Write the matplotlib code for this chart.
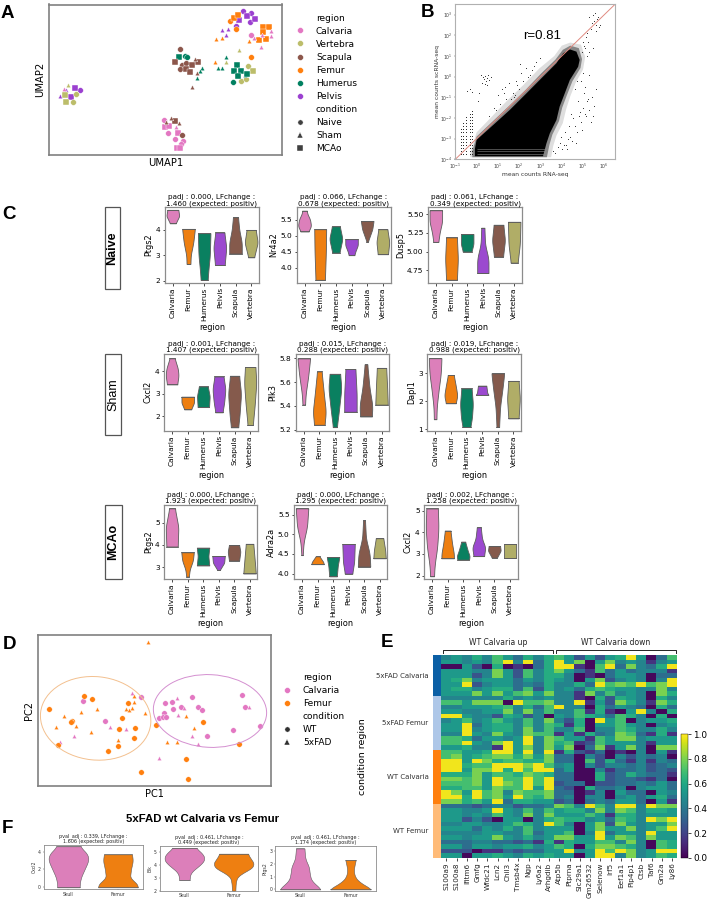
import numpy as np
import matplotlib
matplotlib.use('Agg')
import matplotlib.pyplot as plt
from matplotlib.lines import Line2D
from matplotlib.patches import Ellipse, Rectangle
from matplotlib.colors import ListedColormap

W, H = 708, 899
fig = plt.figure(figsize=(W/100, H/100), dpi=100)

def axpx(l, t, r, b):
    return fig.add_axes([l/W, 1-b/H, (r-l)/W, (b-t)/H])

def style(ax, color='#8c8c8c', lw=1.0):
    for s in ax.spines.values():
        s.set_color(color); s.set_linewidth(lw)

BOLD = 'Liberation Sans'
COL = {'Calvaria': '#e377c2', 'Vertebra': '#bcbd6a', 'Scapula': '#8c564b',
       'Femur': '#ff7f0e', 'Humerus': '#008060', 'Pelvis': '#9b40d0'}
VCOL = ['#dc7fba', '#ee7f11', '#0a8060', '#9b49cf', '#855a4c', '#b0ad67']
MK = {'Naive': 'o', 'Sham': '^', 'MCAo': 's'}

# ---------- Panel A (UMAP, arbitrary units)
a_regions = ['Calvaria', 'Vertebra', 'Scapula', 'Femur', 'Humerus', 'Pelvis']
a_conditions = ['Naive', 'Sham', 'MCAo']
a_pts = {
 ('Pelvis', 'Naive'): ([730, 755, 708, 752, 241], [33, 40, 78, 66, 271]),
 ('Pelvis', 'MCAo'): ([741, 719, 765, 224, 214], [48, 60, 58, 264, 290]),
 ('Pelvis', 'Sham'): ([666, 685, 680, 197, 181], [91, 87, 104, 270, 287]),
 ('Femur', 'Naive'): ([692, 708, 755], [63, 88, 170]),
 ('Femur', 'MCAo'): ([703, 714, 789, 808, 789, 777, 798], [53, 46, 82, 82, 96, 120, 116]),
 ('Femur', 'Sham'): ([650, 666, 749, 646], [117, 114, 124, 186]),
 ('Calvaria', 'Naive'): ([755, 491, 505, 524, 550, 544], [105, 359, 398, 417, 423, 433]),
 ('Calvaria', 'Sham'): ([763, 814, 787, 813, 785, 193, 529], [114, 92, 106, 108, 141, 267, 381]),
 ('Calvaria', 'MCAo'): ([494, 507, 533, 532, 539], [382, 379, 399, 444, 444]),
 ('Vertebra', 'Sham'): ([718, 680, 203], [151, 185, 255]),
 ('Vertebra', 'Naive'): ([746, 723, 740, 227, 219], [198, 244, 237, 282, 307]),
 ('Vertebra', 'MCAo'): ([759, 194, 198], [213, 285, 307]),
 ('Humerus', 'Sham'): ([680, 654, 668, 736, 607, 600, 591], [170, 203, 203, 224, 203, 212, 233]),
 ('Humerus', 'MCAo'): ([711, 702, 723, 715, 743, 536], [196, 213, 213, 228, 221, 172]),
 ('Humerus', 'Naive'): ([699, 556, 560], [246, 168, 170]),
 ('Scapula', 'Naive'): ([541, 546, 559, 540, 546], [147, 194, 190, 206, 405]),
 ('Scapula', 'MCAo'): ([526, 593, 576, 558, 570, 524], [186, 186, 195, 208, 215, 362]),
 ('Scapula', 'Sham'): ([585, 591, 577, 514, 499, 536], [178, 220, 261, 353, 366, 370]),
}
ax = axpx(49.5, 4.5, 282, 155)
for (reg, cond), (xs, ys) in a_pts.items():
    ax.scatter(xs, ys, s=17 if cond != 'Sham' else 11, c=COL[reg], marker=MK[cond],
               edgecolors='white', linewidths=0.3)
ax.set_xlim(148, 847); ax.set_ylim(465, 13)
ax.set_xticks([]); ax.set_yticks([])
ax.set_xlabel('UMAP1', fontsize=7.2, labelpad=2); ax.set_ylabel('UMAP2', fontsize=7.2, labelpad=3)
style(ax, '#808080', 1.2)
h = [Line2D([], [], ls='', label='region')]
h += [Line2D([], [], ls='', marker='o', ms=4.2, color=COL[r], mec='white', mew=.3, label=r) for r in a_regions]
h += [Line2D([], [], ls='', label='condition')]
h += [Line2D([], [], ls='', marker=MK[c], ms=3.8, color='#404040', mec='white', mew=.3, label=c) for c in a_conditions]
ax.legend(handles=h, loc='upper left', bbox_to_anchor=(1.009, 1.0), frameon=False, fontsize=6.5,
          labelspacing=0.45, handletextpad=0.93, handlelength=1.6, borderpad=0.3, borderaxespad=0.7)

# ---------- Panel B (density envelope plus sparse points, log10 units)
env_x = [-0.08, 0.0, 0.78, 1.56, 2.34, 3.12, 3.75, 4.06, 4.38, 4.69, 4.84, 4.77, 4.38, 4.14, 3.9, 3.75, 3.44, 3.28, 3.12, -0.08]
env_y = [-3.5, -3.06, -2.34, -1.61, -0.81, 0.0, 0.65, 1.13, 1.32, 1.21, 0.81, 0.48, -0.16, -0.81, -1.45, -2.1, -2.74, -3.23, -3.85, -3.85]
halo1_x = [-0.2, 0.0, 0.75, 1.5, 2.3, 3.05, 3.7, 4.05, 4.4, 4.8, 4.95, 4.88, 4.5, 4.25, 4.02, 3.87, 3.56, 3.42, 3.3, -0.2]
halo1_y = [-3.6, -2.9, -2.17, -1.44, -0.64, 0.17, 0.82, 1.3, 1.5, 1.38, 0.85, 0.42, -0.22, -0.87, -1.5, -2.15, -2.8, -3.3, -3.9, -3.9]
halo2_x = [-0.3, 0.0, 0.7, 1.4, 2.2, 2.95, 3.65, 4.0, 4.4, 4.9, 5.1, 5.0, 4.65, 4.4, 4.2, 4.05, 3.75, 3.6, 3.5, -0.3]
halo2_y = [-3.7, -2.7, -1.95, -1.2, -0.4, 0.4, 1.0, 1.5, 1.65, 1.55, 0.95, 0.35, -0.3, -0.95, -1.6, -2.25, -2.85, -3.35, -3.9, -3.9]
gap_y = [-3.72, -3.6, -3.48]
low_cols = [-0.75, -0.62, -0.48, -0.33, -0.2]
low_tops = [9, 11, 13, 14, 15]
low_rows = [-3.75, -3.6, -3.45, -3.3, -3.15, -3.0, -2.85, -2.7, -2.55, -2.4, -2.25, -2.1, -1.95, -1.8, -1.65]
stray_x = [5.2, 5.3, 5.4, 5.45, 5.5, 5.55, 5.6, 5.65, 5.7, 5.75, 5.8, 5.35, 5.25, 5.15, 5.1, 5.05, 5.0, 4.95, 5.3, 5.2, 5.45, 5.6,
           0.3, 0.35, 0.4, 0.45, 0.5, 0.55, 0.25, 0.4, 0.6, 0.7, 0.2, 0.5, -0.45, -0.3, -0.2, 0.05, 0.1,
           1.0, 1.2, 1.4, 1.5, 1.7, 1.8, 1.9, 2.0, 2.1, 2.2, 2.3, 2.5, 2.6, 2.7, 0.9, 1.1, 1.3, 1.6, 1.85, 2.05, 2.4, 2.8, 3.0, 1.35, 1.75, 0.6, 0.8,
           4.4, 4.5, 4.6, 4.7, 4.8, 4.9, 5.0, 5.1, 5.2, 5.3, 5.4, 5.5, 4.55, 4.65, 4.75, 4.85, 4.95, 5.05, 5.15, 5.25, 5.35, 4.45, 4.6, 4.7, 4.2, 4.3, 4.35, 4.25, 5.45, 5.6,
           4.9, 5.1, 5.3, 5.0, 3.6, 3.8, 3.9, 4.0, 4.1, 3.7, 3.95, 4.15]
stray_y = [2.1, 2.9, 2.6, 3.0, 2.7, 3.1, 2.5, 2.8, 2.9, 2.4, 2.5, 2.3, 1.7, 1.9, 1.4, 1.5, 1.7, 1.2, 1.2, 1.0, 1.4, 2.2,
           0.0, -0.1, 0.05, -0.2, -0.05, 0.1, -0.3, -0.35, -0.15, 0.0, 0.1, -0.4, -0.7, -0.6, -0.75, -1.2, -0.8,
           -0.9, -0.6, -1.1, -0.3, -0.8, -0.9, -0.4, -0.6, 0.2, -0.2, 0.4, 0.1, 0.3, 0.5, -1.6, -1.3, -0.8, -1.1, -0.2, 0.6, 0.0, 0.7, 0.9, -0.5, -1.0, -1.9, -1.5,
           -2.9, -3.1, -2.4, -2.7, -1.9, -2.2, -1.5, -1.8, -1.2, -1.6, -1.0, -1.4, -2.0, -3.2, -1.2, -1.7, -2.6, -0.8, -1.9, -1.1, -2.2, -1.8, -0.6, -0.2, -3.3, -3.0, -2.4, -3.5, -1.9, -0.6,
           -0.2, -0.5, 0.1, 0.2, -3.6, -3.4, -3.2, -3.5, -3.3, -3.7, -2.9, -2.7]
ax = axpx(455.3, 3.7, 615, 159.3)
ax.fill(10**np.array(halo2_x), 10**np.array(halo2_y), color='black', alpha=0.13, lw=0)
ax.fill(10**np.array(halo1_x), 10**np.array(halo1_y), color='black', alpha=0.4, lw=0)
ax.fill(10**np.array(env_x), 10**np.array(env_y), color='black', lw=0)
ax.hlines(10**np.array(gap_y), 10**0.0, 10**3.2, colors='#8a8a8a', lw=0.4)
for cx, top in zip(low_cols, low_tops):
    ys = np.array(low_rows[:top])
    ax.scatter(np.full(len(ys), 10**cx), 10**ys, s=0.5, c='#202020', lw=0)
ax.scatter(10**np.array(stray_x), 10**np.array(stray_y), s=0.5, c='#303030', lw=0)
ax.plot([10**-1, 10**6.5], [10**-4, 10**3.5], color='#e08a80', lw=0.7)
ax.set_xscale('log'); ax.set_yscale('log')
ax.set_xlim(10**-1, 10**6.5); ax.set_ylim(10**-4, 10**3.53)
ax.set_xticks([10.0**i for i in range(-1, 7)]); ax.set_yticks([10.0**i for i in range(-4, 4)])
ax.minorticks_off()
ax.tick_params(labelsize=3.3, length=0.8, width=0.3, pad=1, colors='#444444')
ax.set_xlabel('mean counts RNA-seq', fontsize=4.3, labelpad=0.5, color='#333333')
ax.set_ylabel('mean counts scRNA-seq', fontsize=4.3, labelpad=0.5, color='#333333')
ax.text(10**2.18, 10**1.95, 'r=0.81', fontsize=9.5, family=BOLD, ha='left', va='center')
style(ax, '#b0b0b0', 0.8)

# ---------- Violin helper
def violin(ax, pos, prof, color, halfw=0.4, lw=0.6):
    prof = sorted(prof)
    ys = np.array([p[0] for p in prof]); ws = np.array([p[1] for p in prof])
    yy = np.linspace(ys[0], ys[-1], 81)
    ww = np.interp(yy, ys, ws)
    k = np.ones(17)/17
    ww = np.convolve(np.pad(ww, 8, mode='edge'), k, mode='valid')
    ww = ww/ww.max()*ws.max()
    ax.fill_betweenx(yy, pos-ww*halfw, pos+ww*halfw, facecolor=color, edgecolor='#5c5c5c', lw=lw)
    ax.plot([pos-ww[0]*halfw, pos+ww[0]*halfw], [yy[0]]*2, color='#5c5c5c', lw=lw)
    ax.plot([pos-ww[-1]*halfw, pos+ww[-1]*halfw], [yy[-1]]*2, color='#5c5c5c', lw=lw)

regions_c = ['Calvaria', 'Femur', 'Humerus', 'Pelvis', 'Scapula', 'Vertebra']

naive_ptgs2 = [[(4.26, .45), (4.55, 1), (4.79, .85)], [(2.66, .3), (3.0, .35), (3.5, .75), (4.04, 1)],
               [(2.03, .55), (2.5, .7), (3.0, .9), (3.87, 1)], [(2.62, .75), (3.3, 1), (3.9, .7)],
               [(3.07, 1), (3.5, 1), (4.0, .6), (4.5, .4)], [(2.92, .45), (3.5, 1), (4.0, .7)]]
naive_nr4a2 = [[(5.13, .6), (5.3, 1), (5.5, .85), (5.7, .4), (5.78, .35)], [(3.62, .75), (4.5, .9), (5.2, .95)],
               [(4.47, .55), (4.9, 1), (5.29, .6)], [(4.39, .45), (4.5, .6), (4.7, 1), (4.89, 1)],
               [(4.81, .1), (5.2, .8), (5.46, 1)], [(4.42, .8), (4.8, 1), (5.2, .7)]]
naive_dusp5 = [[(5.13, .4), (5.25, .6), (5.4, 1), (5.555, 1)], [(4.62, .85), (4.9, 1), (5.19, .85)],
               [(5.0, .7), (5.1, 1), (5.235, 1)], [(4.71, .9), (4.9, .9), (5.1, .35), (5.32, .25)],
               [(4.93, .7), (5.15, 1), (5.36, .75)], [(4.85, .55), (5.1, .9), (5.4, 1)]]
sham_cxcl2 = [[(3.41, .8), (3.8, 1), (4.1, .9), (4.56, .4)], [(2.31, .55), (2.6, 1), (2.87, 1)],
              [(2.41, .9), (2.9, 1), (3.32, .7)], [(2.18, .55), (2.6, .8), (3.2, 1), (3.76, .7)],
              [(1.52, .55), (2.0, .75), (3.0, 1), (3.79, .7)], [(1.62, .4), (2.5, .7), (3.5, .95), (4.18, .8)]]
sham_plk3 = [[(5.41, .2), (5.5, .3), (5.65, .7), (5.8, 1)], [(5.24, .8), (5.35, 1), (5.5, .7), (5.69, .35)],
             [(5.22, .3), (5.35, .6), (5.55, 1), (5.67, .8)], [(5.35, 1), (5.5, 1), (5.71, .8)],
             [(5.31, .9), (5.4, 1), (5.55, .55), (5.75, .2)], [(5.41, 1), (5.55, .9), (5.72, .75)]]
sham_dapl1 = [[(1.36, .2), (1.8, .25), (2.4, .55), (3.0, .9), (3.54, 1)], [(1.93, .75), (2.2, 1), (2.5, .8), (2.94, .45)],
              [(1.08, .6), (1.4, .85), (1.9, 1), (2.46, .8)], [(2.23, 1), (2.3, .8), (2.56, .65)],
              [(1.08, .2), (1.8, .35), (2.4, .7), (3.0, 1)], [(1.39, .8), (2.1, 1), (2.73, .8)]]
mcao_ptgs2 = [[(3.93, .9), (4.8, 1), (5.64, .45)], [(2.58, .2), (2.9, .35), (3.3, .85), (3.67, 1)],
              [(3.08, 1), (3.5, .85), (3.88, 1)], [(2.88, .2), (3.2, .9), (3.5, 1)],
              [(3.3, .8), (3.7, 1), (4.0, .8)], [(2.72, 1), (3.4, .8), (4.05, .6)]]
mcao_adra2a = [[(4.47, .1), (4.8, .25), (5.2, .8), (5.66, 1)], [(4.24, 1), (4.3, .9), (4.44, .3)],
               [(3.93, .6), (4.2, .75), (4.42, 1)], [(4.0, .6), (4.3, .9), (4.75, 1)],
               [(4.18, 1), (4.5, .9), (4.9, .3), (5.36, .15)], [(4.39, 1), (4.6, .9), (4.9, .6)]]
mcao_cxcl2 = [[(1.97, .3), (2.5, .4), (3.3, .8), (4.2, 1), (5.1, .9)], [(2.8, 1), (3.0, 1), (3.5, .7), (4.08, .45)],
              [(2.74, .9), (2.9, 1), (3.15, .7), (3.57, .3)], [(2.9, .8), (3.3, 1), (3.7, .5), (4.23, .3)],
              [(2.83, .4), (3.15, 1), (3.37, .9)], [(2.83, 1), (3.15, 1), (3.45, 1)]]

c_panels = [
 ((165, 207.3, 259, 282.7), 'Ptgs2', 'padj : 0.000, LFchange :\n1.460 (expected: positiv)', naive_ptgs2, (1.92, 4.89), [2, 3, 4], None),
 ((296.7, 207.3, 390.7, 282.7), 'Nr4a2', 'padj : 0.066, LFchange :\n0.678 (expected: positiv)', naive_nr4a2, (3.53, 5.885), [4.0, 4.5, 5.0, 5.5], '%.1f'),
 ((428, 207.3, 522, 282.7), 'Dusp5', 'padj : 0.061, LFchange :\n0.349 (expected: positiv)', naive_dusp5, (4.58, 5.595), [4.75, 5.0, 5.25, 5.5], '%.2f'),
 ((164.3, 354, 258, 430.7), 'Cxcl2', 'padj : 0.001, LFchange :\n1.407 (expected: positiv)', sham_cxcl2, (1.37, 4.75), [2, 3, 4], None),
 ((296, 354, 389.3, 430.7), 'Plk3', 'padj : 0.015, LFchange :\n0.288 (expected: positiv)', sham_plk3, (5.19, 5.837), [5.2, 5.4, 5.6, 5.8], '%.1f'),
 ((427.3, 354, 521.3, 430.7), 'Dapl1', 'padj : 0.019, LFchange :\n0.988 (expected: positiv)', sham_dapl1, (0.95, 3.69), [1, 2, 3], None),
 ((164.3, 505, 257.3, 579.3), 'Ptgs2', 'padj : 0.000, LFchange :\n1.923 (expected: positiv)', mcao_ptgs2, (2.46, 5.79), [3, 4, 5], None),
 ((294.3, 505, 387.3, 579.3), 'Adra2a', 'padj : 0.000, LFchange :\n1.295 (expected: positiv)', mcao_adra2a, (3.855, 5.745), [4.0, 4.5, 5.0, 5.5], '%.1f'),
 ((424.3, 505, 517.7, 579.3), 'Cxcl2', 'padj : 0.002, LFchange :\n1.258 (expected: positiv)', mcao_cxcl2, (1.83, 5.26), [2, 3, 4, 5], None),
]
for box, ylab, title, profs, ylim, yt, fmt in c_panels:
    ax = axpx(*box)
    for i, p in enumerate(profs):
        violin(ax, i, p, VCOL[i])
    ax.set_xlim(-0.5, 5.5); ax.set_ylim(*ylim)
    ax.set_xticks(range(6)); ax.set_xticklabels(regions_c, rotation=90)
    ax.set_yticks(yt)
    if fmt:
        ax.set_yticklabels([fmt % v for v in yt])
    ax.tick_params(labelsize=5.3, length=1.8, width=0.5, pad=1.5)
    ax.set_xlabel('region', fontsize=5.9, labelpad=1.5)
    ax.set_ylabel(ylab, fontsize=5.9, labelpad=1.5)
    ax.set_title(title, fontsize=5.25, pad=1.5, linespacing=1.05)
    style(ax, '#8c8c8c', 0.9)

# Row label boxes
row_boxes = [('Naive', 104.7, 207.3, 120.3, 288.7, 'bold'), ('Sham', 105.3, 354, 121.3, 435.3, 'normal'),
             ('MCAo', 104.7, 505, 122.3, 579.3, 'bold')]
for lab, l, t, r, b, wt in row_boxes:
    fig.add_artist(Rectangle((l/W, 1-b/H), (r-l)/W, (b-t)/H, transform=fig.transFigure,
                             fc='white', ec='#555555', lw=0.9))
    fig.text((l+r)/2/W, 1-(t+b)/2/H, lab, rotation=90, ha='center', va='center',
             fontsize=9, family=BOLD, fontweight=wt)

# ---------- Panel D (PCA, arbitrary units)
d_femur_wt_x = [148, 252, 276, 217, 213, 367, 384, 358, 405, 403, 354, 325, 174, 467, 610, 717, 557, 423, 563]
d_femur_wt_y = [252, 214, 221, 287, 291, 278, 234, 311, 309, 340, 362, 377, 360, 299, 291, 358, 403, 441, 461]
d_femur_fad_x = [444, 193, 243, 292, 167, 228, 272, 401, 403, 395, 379, 386, 434, 355, 502, 532, 559, 583]
d_femur_fad_y = [52, 272, 260, 251, 307, 303, 320, 214, 232, 248, 253, 256, 265, 344, 350, 350, 272, 309]
d_calv_wt_x = [250, 423, 315, 494, 517, 543, 518, 577, 593, 605, 493, 478, 490, 498, 726, 736, 781, 698, 620]
d_calv_wt_y = [229, 215, 287, 235, 231, 247, 252, 215, 246, 254, 265, 280, 276, 277, 210, 247, 304, 314, 334]
d_calv_fad_x = [397, 531, 551, 535, 746, 330, 379, 222, 180, 576, 594, 478]
d_calv_fad_y = [205, 219, 248, 271, 245, 306, 311, 333, 350, 333, 356, 398]
ax = axpx(38.3, 635, 271, 786)
ax.scatter(d_calv_wt_x, d_calv_wt_y, s=16, c=COL['Calvaria'], marker='o', edgecolors='white', linewidths=.3)
ax.scatter(d_calv_fad_x, d_calv_fad_y, s=10, c=COL['Calvaria'], marker='^', edgecolors='white', linewidths=.3)
ax.scatter(d_femur_wt_x, d_femur_wt_y, s=16, c=COL['Femur'], marker='o', edgecolors='white', linewidths=.3)
ax.scatter(d_femur_fad_x, d_femur_fad_y, s=10, c=COL['Femur'], marker='^', edgecolors='white', linewidths=.3)
ax.add_patch(Ellipse((287, 280), 332, 250, angle=6, fc='none', ec='#f3c08f', lw=0.7))
ax.add_patch(Ellipse((630, 258), 340, 218, angle=3, fc='none', ec='#d48fd0', lw=0.7))
ax.set_xlim(115, 813); ax.set_ylim(483, 30)
ax.set_xticks([]); ax.set_yticks([])
ax.set_xlabel('PC1', fontsize=7, labelpad=2); ax.set_ylabel('PC2', fontsize=7, labelpad=3)
style(ax, '#808080', 1.2)
h = [Line2D([], [], ls='', label='region')]
h += [Line2D([], [], ls='', marker='o', ms=4.2, color=COL[r], mec='white', mew=.3, label=r) for r in ['Calvaria', 'Femur']]
h += [Line2D([], [], ls='', label='condition')]
h += [Line2D([], [], ls='', marker=m, ms=3.8, color='#303030', mec='white', mew=.3, label=l) for m, l in [('o', 'WT'), ('^', '5xFAD')]]
ax.legend(handles=h, loc='upper left', bbox_to_anchor=(1.0, 0.807), frameon=False, fontsize=6.5,
          labelspacing=0.45, handletextpad=0.93, handlelength=1.6, borderpad=0.3, borderaxespad=0.7)

# ---------- Panel E heatmap
genes = ['S100a9', 'S100a8', 'Ifitm6', 'Gmfg', 'Wfdc21', 'Lcn2', 'Chil3', 'Tmsb4x', 'Ngp', 'Ly6a2', 'Arhgdib',
         'Atp5b', 'Ptprna', 'Slc29a1', 'Gm26532', 'Selenow', 'Irf5', 'Eef1a1', 'Pip4p1', 'Ctsb', 'Taf6', 'Gm2a', 'Ly86']
group_names = ['5xFAD Calvaria', '5xFAD Femur', 'WT Calvaria', 'WT Femur']
group_sizes = [9, 12, 12, 12]
group_colors = ['#0b5fa5', '#aec7e8', '#ff7f0e', '#ffbb78']
heat_levels = [0.02, 0.15, 0.26, 0.36, 0.45, 0.54, 0.62, 0.70, 0.80, 0.98]
heat_rows = [
 '45464753646' '752525695037',
 '55454794936' '958058454145',
 '00520601036' '991079384369',
 '55544852746' '853173534441',
 '55524852746' '640103554033',
 '56845553546' '540582454049',
 '55924553436' '446397879789',
 '56645663726' '453676554484',
 '55585857858' '441847454086',
 '44444464545' '441062654064',
 '77588809778' '449152864186',
 '44555674637' '944063543063',
 '55445584847' '447161059406',
 '99544265240' '547653764060',
 '45745754748' '426095704556',
 '55935664747' '616055754045',
 '55945664847' '447044764464',
 '44954854877' '151634873161',
 '77635545948' '755175884555',
 '77954895948' '671275554155',
 '55644195848' '580381584088',
 '77556995949' '162130104051',
 '78567886858' '330420424340',
 '99598677668' '330726314143',
 '99677999897' '450424434234',
 '99588969799' '350041334232',
 '66685776876' '330062364331',
 '88785977979' '330062332130',
 '77785987979' '233022334353',
 '66775877959' '320633404553',
 '98597848778' '330140533054',
 '99697859768' '340440453563',
 '88675936655' '230343553051',
 '33323442334' '874974994988',
 '55445954747' '566484874665',
 '55454754848' '555751664555',
 '55242055046' '766453764989',
 '44554457649' '740582854558',
 '55535464745' '550585584579',
 '44445544735' '570493554955',
 '55455854645' '885595874855',
 '33344332316' '165577484076',
 '55355455645' '760688764076',
 '22201132335' '594597984599',
 '55055654656' '550599484576',
]
heat = np.array([[heat_levels[int(c)] for c in row] for row in heat_rows])
ax = axpx(441.3, 655, 677.3, 857.7)
im = ax.imshow(heat, cmap='viridis', vmin=0, vmax=1, aspect='auto', interpolation='nearest')
ax.set_xticks(range(len(genes))); ax.set_xticklabels(genes, rotation=90)
ax.set_yticks([])
ax.tick_params(axis='x', labelsize=5.2, length=2, width=0.5, pad=1.5, labelcolor='#222222')
for s in ax.spines.values():
    s.set_visible(False)
br_up = (-0.33, 10.39); br_down = (10.68, 22.37); br_top, br_foot = -1.6, -0.95
for (a, b), lab in [(br_up, 'WT Calvaria up'), (br_down, 'WT Calvaria down')]:
    ax.plot([a, a, b, b], [br_foot, br_top, br_top, br_foot], color='#222222', lw=0.7, clip_on=False)
    ax.text((a+b)/2, br_top-0.6, lab, ha='center', va='bottom', fontsize=5.5, color='#222222')
ax.set_xlim(-0.5, 22.5); ax.set_ylim(44.5, -0.5)

gax = axpx(432.7, 655, 440, 857.7)
gvals = np.repeat(np.arange(4), group_sizes).reshape(-1, 1)
gax.imshow(gvals, cmap=ListedColormap(group_colors), aspect='auto', interpolation='nearest')
edges = np.cumsum([0]+group_sizes)
gax.set_xticks([])
gax.set_yticks((edges[:-1]+edges[1:])/2-0.5); gax.set_yticklabels(group_names)
gax.tick_params(axis='y', labelsize=5.0, length=0, pad=3, labelcolor='#333333')
for s in gax.spines.values():
    s.set_visible(False)
gax.set_ylabel('condition region', fontsize=6.8, labelpad=2)
gax.yaxis.set_label_coords((367-432.7)/7.3, 0.5)

cax = axpx(680.7, 734.3, 688.3, 857.7)
cb = fig.colorbar(im, cax=cax, ticks=[0, .2, .4, .6, .8, 1.0])
cb.ax.tick_params(labelsize=6.4, length=2, width=0.5, pad=1.5)
cb.outline.set_linewidth(0.3)

# ---------- Panel F
f_regions = ['Skull', 'Femur']
f_cxcl2 = [[(0, .55), (1, .6), (2, .8), (3, 1), (3.5, 1), (4, .85), (4.6, .55)],
           [(0, 1), (.5, .95), (1, .6), (2, .65), (3, .75), (3.7, .7)]]
f_elk = [[(2.85, .25), (3.4, .3), (3.8, .6), (4.2, .9), (4.5, 1), (4.9, .9), (5.35, .55)],
         [(2.0, .08), (2.7, .1), (3.2, .2), (3.6, .7), (4.0, 1), (4.4, .85), (4.9, .65)]]
f_ptgs2 = [[(0, 1), (.2, .9), (.6, .55), (1.2, .45), (1.8, .42), (2.3, .25), (2.8, .22), (3.2, .2)],
           [(0, 1), (.2, .8), (.6, .4), (1, .2), (1.5, .15), (2, .2), (2.3, .25)]]
f_panels = [
 ((43.7, 844.7, 142.7, 889.3), 'Cxcl2', 'pval_adj : 0.339, LFchange :\n1.606 (expected: positiv)', f_cxcl2, (-0.22, 4.78), [0, 2, 4]),
 ((159.7, 846, 258.3, 890.7), 'Elk', 'pval_adj : 0.461, LFchange :\n0.449 (expected: positiv)', f_elk, (2.0, 5.5), [2, 3, 4, 5]),
 ((275, 846, 375.7, 890.7), 'Ptgs2', 'pval_adj : 0.461, LFchange :\n1.174 (expected: positiv)', f_ptgs2, (-0.1, 3.39), [0, 1, 2, 3]),
]
for box, ylab, title, profs, ylim, yt in f_panels:
    ax = axpx(*box)
    for i, p in enumerate(profs):
        violin(ax, i, p, VCOL[i], lw=0.4)
    ax.set_xlim(-0.5, 1.5); ax.set_ylim(*ylim)
    ax.set_xticks([0, 1]); ax.set_xticklabels(f_regions); ax.set_yticks(yt)
    ax.tick_params(labelsize=3.3, length=1, width=0.3, pad=1, colors='#333333')
    ax.set_ylabel(ylab, fontsize=3.3, labelpad=1, color='#333333')
    ax.set_title(title, fontsize=3.5, pad=1.2, linespacing=1.05, color='#222222')
    style(ax, '#8c8c8c', 0.6)

fig.text(203/W, 1-819/H, '5xFAD wt Calvaria vs Femur', ha='center', va='center', fontsize=8.2,
         fontweight='bold', family=BOLD)

# ---------- Panel letters
for lab, x, y in [('A', 1, 17.5), ('B', 421, 17), ('C', 2.5, 219), ('D', 2.5, 649), ('E', 381, 647), ('F', 1.5, 833)]:
    fig.text(x/W, 1-y/H, lab, fontsize=13.5, fontweight='bold', family=BOLD, ha='left', va='baseline')

fig.savefig('out.png', dpi=100)
